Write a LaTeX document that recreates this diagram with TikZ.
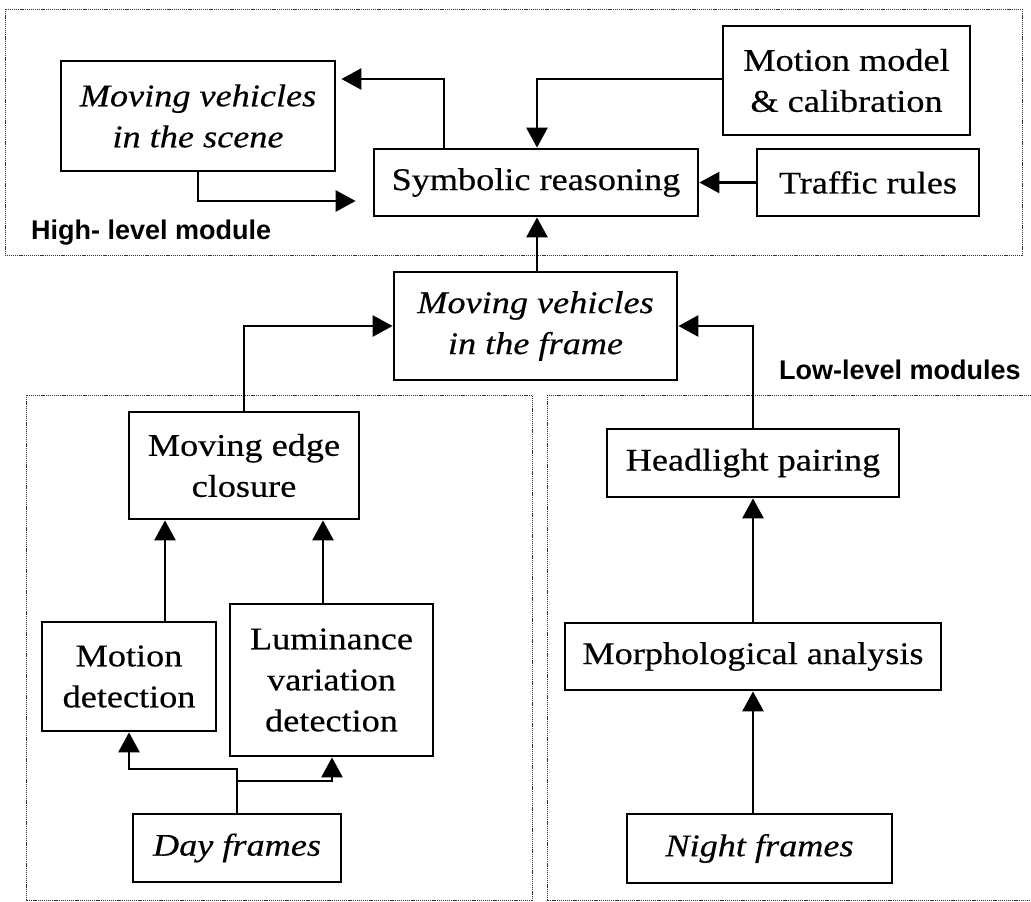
\documentclass[tikz,border=0pt]{standalone}
\usepackage{fontspec}
\setmainfont{Liberation Serif}[FakeStretch=1.15,FakeBold=0.4]
\newfontfamily\lblfont{Liberation Sans}
\usetikzlibrary{arrows.meta,calc}
\newcommand\mainfs{\fontsize{31.5}{41}\selectfont}
\begin{document}
\begin{tikzpicture}[x=1pt,y=-1pt,
  box/.style={draw, line width=2.8pt, inner sep=0pt, align=center, font=\mainfs},
  arr/.style={line width=2.8pt, -{Triangle[length=20pt,width=21pt]}},
  modframe/.style={draw=black!80, line width=1pt, dash pattern=on 1.2pt off 0.9pt},
  lbl/.style={font=\lblfont\bfseries\fontsize{27}{30}\selectfont, inner sep=0pt, anchor=base west}]
\useasboundingbox (0,0) rectangle (1031,902);
\fill[white] (0,0) rectangle (1031,902);

% module frames
\draw[modframe] (5,9) rectangle (1022,255);
\draw[modframe] (26,395) rectangle (532,900);
\draw[modframe] (547,395) rectangle (1040,900);

\node[lbl] (hl) at (31,239) {High- level module};
\node[lbl] (ll) at (779,379) {Low-level modules};

% high-level nodes
\node[box, minimum width=274pt, minimum height=110pt] (scene) at (198,116) {\itshape Moving vehicles\\\itshape in the scene};
\node[box, minimum width=324pt, minimum height=67pt] (sym) at (536,182.5) {Symbolic reasoning};
\node[box, minimum width=247pt, minimum height=109pt] (mm) at (846.5,80.5) {Motion model\\\& calibration};
\node[box, minimum width=222pt, minimum height=67pt] (tr) at (868,182.5) {Traffic rules};

% middle
\node[box, minimum width=283pt, minimum height=108pt] (frame) at (535.5,326) {\itshape Moving vehicles\\\itshape in the frame};

% lower-left
\node[box, minimum width=230pt, minimum height=107pt] (mec) at (244,465.5) {Moving edge\\closure};
\node[box, minimum width=174pt, minimum height=109pt] (md) at (129,676.5) {Motion\\detection};
\node[box, minimum width=203pt, minimum height=152pt] (lum) at (331.5,680) {Luminance\\variation\\detection};
\node[box, minimum width=208pt, minimum height=68pt] (day) at (237,848) {\itshape Day frames};

% lower-right
\node[box, minimum width=292pt, minimum height=68pt] (hp) at (753,463) {Headlight pairing};
\node[box, minimum width=376pt, minimum height=67pt] (morph) at (753,656.5) {Morphological analysis};
\node[box, minimum width=265pt, minimum height=69pt] (night) at (759.5,848.5) {\itshape Night frames};

% helper coordinates
\coordinate (c1) at (444,79);
\coordinate (c2) at (198,201);
\coordinate (c3) at (537,79);
\coordinate (c8) at (165,0);
\coordinate (c9) at (323,0);
\coordinate (c10) at (237,769);
\coordinate (c10b) at (129,0);
\coordinate (c11) at (237,781);
\coordinate (c11b) at (332,0);

% connectors
\draw[arr] (sym.north -| c1) -- (c1) -- ([xshift=5pt]scene.east |- c1);
\draw[arr] (scene.south -| c2) -- (c2) -- ([xshift=-17pt]sym.west |- c2);
\draw[arr] (mm.west |- c3) -- (c3) -- (sym.north -| c3);
\draw[arr] (tr.west) -- (sym.east |- tr.west);
\draw[arr] (frame.north -| c3) -- (sym.south -| c3);
\draw[arr] (mec.north) |- (frame.west);
\draw[arr] (hp.north) |- (frame.east);
\draw[arr] (md.north -| c8) -- (mec.south -| c8);
\draw[arr] (lum.north -| c9) -- (mec.south -| c9);
\draw[arr] (day.north) -- (c10) -| (md.south -| c10b);
\draw[arr] (c11) -| (lum.south -| c11b);
\draw[arr] (morph.north) -- (hp.south);
\draw[arr] (night.north -| morph.south) -- (morph.south);
\end{tikzpicture}
\end{document}
